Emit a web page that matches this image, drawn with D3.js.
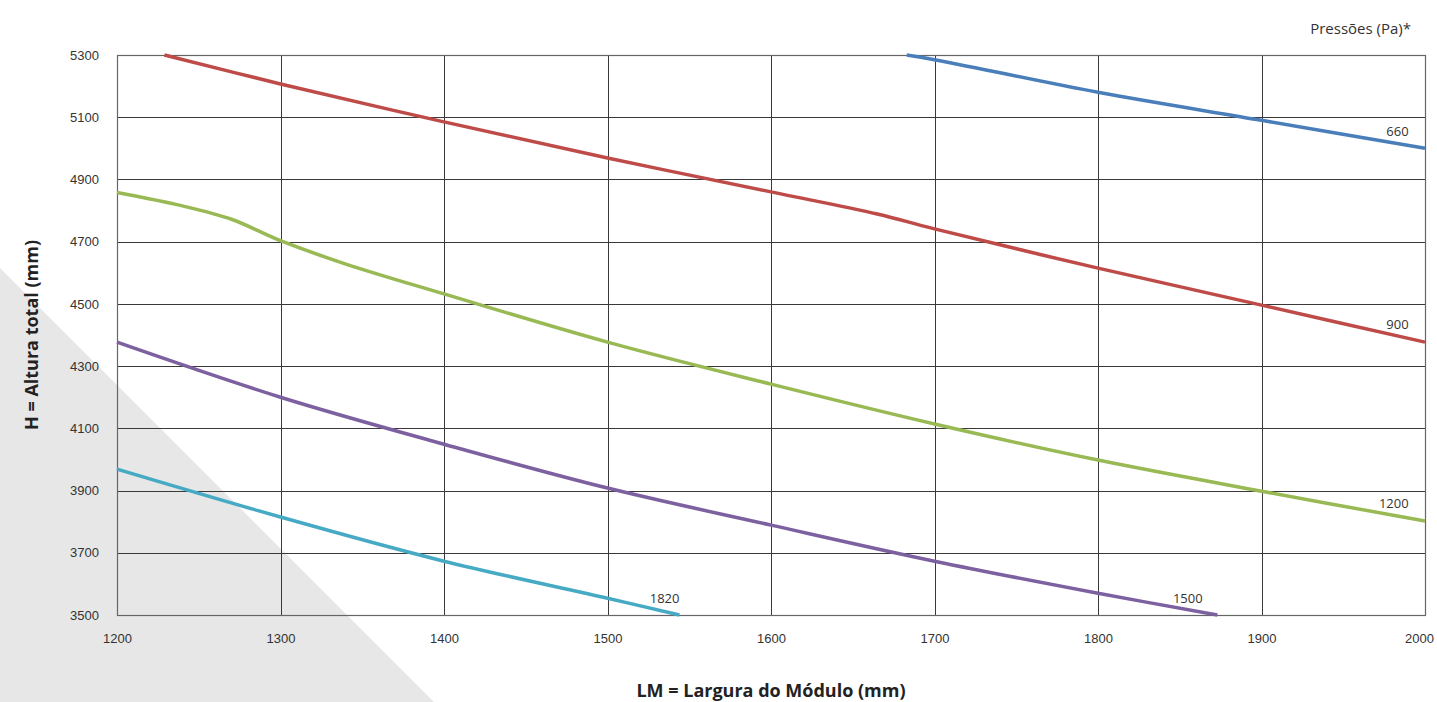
<!DOCTYPE html>
<html><head><meta charset="utf-8">
<script src="https://cdn.jsdelivr.net/npm/d3@7"></script>
<style>
html,body{margin:0;padding:0;background:#fff;}
svg{display:block;font-family:"Open Sans","Noto Sans",sans-serif;}
</style></head>
<body><svg id="c" width="1437" height="702"></svg>
<script>
const xTicks = [1200,1300,1400,1500,1600,1700,1800,1900,2000];
const yTicks = [3500,3700,3900,4100,4300,4500,4700,4900,5100,5300];
const seriesNames = ["660","900","1200","1500","1820"];
const seriesColors = ["#4a7ebb","#be4b48","#98b954","#7d60a0","#46aac5"];
const s660  = [[1683,5300],[1700,5285],[1800,5180],[1900,5090],[2000,5000]];
const s900  = [[1229,5300],[1300,5207],[1400,5085],[1500,4969],[1600,4860],[1665,4789],[1700,4741],[1800,4615],[1900,4496],[2000,4377]];
const s1200 = [[1200,4858],[1240,4815],[1270,4772],[1300,4703],[1340,4628],[1400,4532],[1500,4377],[1600,4242],[1700,4114],[1800,3998],[1900,3898],[2000,3802]];
const s1500 = [[1200,4377],[1300,4200],[1400,4049],[1500,3908],[1600,3789],[1700,3673],[1800,3570],[1873,3500]];
const s1820 = [[1200,3969],[1300,3815],[1400,3673],[1500,3554],[1544,3500]];
const seriesData = [s660,s900,s1200,s1500,s1820];
// label anchors in data units (right end of label, baseline)
const labelAnchors = [[1990,5040],[1990,4420],[1990,3844],[1864,3538],[1544,3538]];

const svg = d3.select("#c");
svg.append("path").attr("d","M0,268 L0,702 L434,702 Z").attr("fill","#e6e7e6");

const x = d3.scaleLinear().domain([1200,2000]).range([117,1425]);
const y = d3.scaleLinear().domain([3500,5300]).range([615,55]);

const g = svg.append("g");
g.selectAll("line.v").data(xTicks.slice(1,-1)).join("line")
  .attr("x1",d=>Math.round(x(d))+0.5).attr("x2",d=>Math.round(x(d))+0.5)
  .attr("y1",y(5300)).attr("y2",y(3500)).attr("stroke","#3a3a3a").attr("stroke-width",1);
g.selectAll("line.h").data(yTicks.slice(1,-1)).join("line")
  .attr("y1",d=>Math.round(y(d))+0.5).attr("y2",d=>Math.round(y(d))+0.5)
  .attr("x1",x(1200)).attr("x2",x(2000)).attr("stroke","#3a3a3a").attr("stroke-width",1);
g.append("rect").attr("x",x(1200)+0.5).attr("y",y(5300)+0.5)
  .attr("width",x(2000)-x(1200)).attr("height",y(3500)-y(5300))
  .attr("fill","none").attr("stroke","#666").attr("stroke-width",1.2);

const xa = svg.append("g").attr("transform",`translate(0,${y(3500)})`)
  .call(d3.axisBottom(x).tickValues(xTicks).tickSize(0).tickPadding(19).tickFormat(d3.format("d")));
xa.select(".domain").remove();
xa.selectAll("text").attr("fill","#333").style("font-size","13px");
xa.selectAll(".tick").filter(d=>d===2000).select("text").attr("dx",-6);
const ya = svg.append("g").attr("transform",`translate(${x(1200)},0)`)
  .call(d3.axisLeft(y).tickValues(yTicks).tickSize(0).tickPadding(18).tickFormat(d3.format("d")));
ya.select(".domain").remove();
ya.selectAll("text").attr("fill","#333").style("font-size","13px");

const line = d3.line().x(d=>x(d[0])).y(d=>y(d[1])).curve(d3.curveCatmullRom.alpha(0.5));
svg.selectAll("path.s").data(seriesData).join("path").attr("class","s")
  .attr("d",line).attr("fill","none")
  .attr("stroke",(d,i)=>seriesColors[i]).attr("stroke-width",3.5).attr("stroke-linecap","butt");

svg.selectAll("text.lab").data(labelAnchors).join("text").attr("class","lab")
  .attr("x",d=>x(d[0])).attr("y",d=>y(d[1])).attr("text-anchor","end")
  .attr("fill","#333").style("font-size","13px").text((d,i)=>seriesNames[i]);

svg.append("text").attr("x",1411).attr("y",34).attr("text-anchor","end")
  .attr("fill","#333").style("font-size","15px").text("Pressões (Pa)*");
svg.append("text").attr("x",771).attr("y",697).attr("text-anchor","middle")
  .attr("fill","#222").style("font-size","18px").style("font-weight","bold")
  .text("LM = Largura do Módulo (mm)");
svg.append("text").attr("transform","translate(38,335) rotate(-90)").attr("text-anchor","middle")
  .attr("fill","#222").style("font-size","18px").style("font-weight","bold")
  .text("H = Altura total (mm)");
</script></body></html>
